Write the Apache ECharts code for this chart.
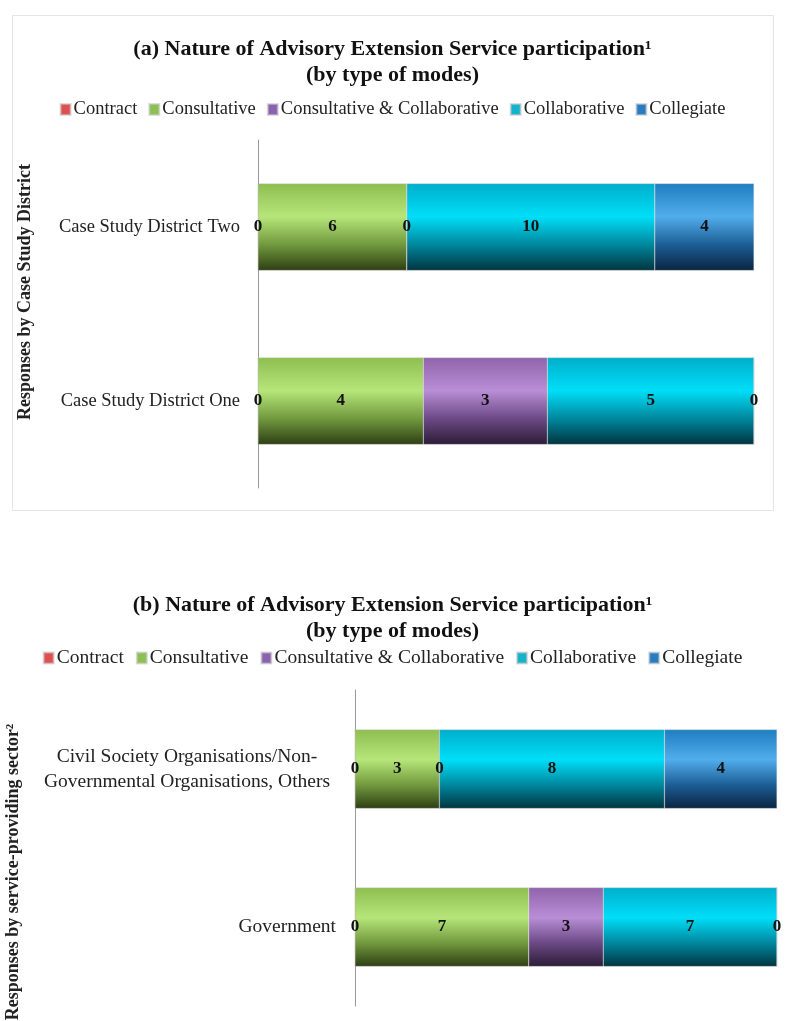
<!DOCTYPE html>
<html>
<head>
<meta charset="utf-8">
<script src="https://cdn.jsdelivr.net/npm/echarts@6/dist/echarts.min.js"></script>
<style>
html,body{margin:0;padding:0;background:#fff;}
#chart{width:785px;height:1021px;}
</style>
</head>
<body>
<div id="chart"></div>
<script>
// ---- data ----
const seriesNames = ['Contract', 'Consultative', 'Consultative & Collaborative', 'Collaborative', 'Collegiate'];

const categoriesA = ['Case Study District One', 'Case Study District Two'];
const contractA = [0, 0];
const consultativeA = [4, 6];
const consultCollabA = [3, 0];
const collaborativeA = [5, 10];
const collegiateA = [0, 4];

const categoriesB = ['Government', 'Civil Society Organisations/Non-\nGovernmental Organisations, Others'];
const contractB = [0, 0];
const consultativeB = [7, 3];
const consultCollabB = [3, 0];
const collaborativeB = [7, 8];
const collegiateB = [0, 4];

const titleA = ['(a) Nature of Advisory Extension Service participation\u00B9', '(by type of modes)'];
const titleB = ['(b) Nature of Advisory Extension Service participation\u00B9', '(by type of modes)'];
const yNameA = 'Responses by Case Study District';
const yNameB = 'Responses by service-providing sector\u00B2';

// ---- styles ----
const FONT = 'Liberation Serif';
const legendColors = ['#e0504f', '#8cc152', '#8a62b0', '#14b3cc', '#2a7cc2'];
const grads = [
  ['#e06060', '#f08a8a', '#b03a3a', '#501818'],
  ['#8ebd50', '#b6e67a', '#729a3e', '#2e3e14'],
  ['#9064aa', '#b98ed6', '#6c4a86', '#2c1c36'],
  ['#00aecb', '#00def8', '#00889e', '#003440'],
  ['#1e7ec0', '#52adec', '#1c5f96', '#0a2440']
];
function grad(i) {
  const g = grads[i];
  return new echarts.graphic.LinearGradient(0, 0, 0, 1, [
    {offset: 0, color: g[0]},
    {offset: 0.38, color: g[1]},
    {offset: 0.7, color: g[2]},
    {offset: 1, color: g[3]}
  ]);
}

function buildSeries(arrs, gridIdx) {
  const totals = arrs[0].map((_, k) => arrs.reduce((s, a) => s + a[k], 0));
  return arrs.map((arr, i) => ({
    name: seriesNames[i],
    type: 'bar',
    stack: 'total' + gridIdx,
    xAxisIndex: gridIdx,
    yAxisIndex: gridIdx,
    barWidth: '50%',
    color: legendColors[i],
    itemStyle: {color: grad(i), borderColor: 'rgba(200,200,200,0.6)', borderWidth: 0.5},
    label: {
      show: true,
      position: 'inside',
      formatter: p => String(p.data.raw),
      fontFamily: FONT,
      fontWeight: 'bold',
      fontSize: 17,
      color: '#111'
    },
    emphasis: {disabled: true},
    data: arr.map((v, k) => ({value: v / totals[k] * 100, raw: v}))
  }));
}

const seriesA = buildSeries([contractA, consultativeA, consultCollabA, collaborativeA, collegiateA], 0);
const seriesB = buildSeries([contractB, consultativeB, consultCollabB, collaborativeB, collegiateB], 1);

function legend(top, gap, size) {
  return {
    top: top, left: 'center',
    itemWidth: 10, itemHeight: 11, itemGap: gap,
    icon: 'rect',
    textStyle: {fontFamily: FONT, fontSize: size, color: '#222', padding: [0, 0, 0, -2]},
    data: seriesNames.map((n, i) => ({name: n, itemStyle: {color: legendColors[i]}})),
    selectedMode: false
  };
}

const chart = echarts.init(document.getElementById('chart'), null, {renderer: 'canvas'});
chart.setOption({
  backgroundColor: '#fff',
  animation: false,
  title: [
    {text: titleA[0] + '\n' + titleA[1], left: 'center', top: 31,
     textStyle: {fontFamily: FONT, fontWeight: 'bold', fontSize: 22, lineHeight: 26, color: '#111'}},
    {text: titleB[0] + '\n' + titleB[1], left: 'center', top: 587,
     textStyle: {fontFamily: FONT, fontWeight: 'bold', fontSize: 22, lineHeight: 26, color: '#111'}}
  ],
  legend: [legend(95, 11, 18.5), legend(643, 12, 19.5)],
  grid: [
    {left: 258, right: 31, top: 140, height: 348},
    {left: 355, right: 8, top: 690, height: 316}
  ],
  xAxis: [
    {type: 'value', gridIndex: 0, min: 0, max: 100, show: false},
    {type: 'value', gridIndex: 1, min: 0, max: 100, show: false}
  ],
  yAxis: [
    {type: 'category', gridIndex: 0, data: categoriesA,
     axisLine: {lineStyle: {color: '#999', width: 1}}, axisTick: {show: false},
     axisLabel: {fontFamily: FONT, fontSize: 18.5, color: '#222', margin: 18}},
    {type: 'category', gridIndex: 1, data: categoriesB,
     axisLine: {lineStyle: {color: '#999', width: 1}}, axisTick: {show: false},
     axisLabel: {
       fontFamily: FONT, fontSize: 19.5, color: '#222', margin: 19,
       formatter: v => v.indexOf('\n') >= 0 ? v.split('\n').map(s => '{c|' + s + '}').join('\n') : v,
       rich: {c: {fontFamily: FONT, fontSize: 19.5, color: '#222', width: 298, align: 'center', lineHeight: 25}}
     }}
  ],
  graphic: [
    {type: 'rect', left: 10, top: 13, shape: {width: 761, height: 495},
     style: {fill: 'none', stroke: '#e4e4e4', lineWidth: 1}, z: -1},
    {type: 'text', x: 25, y: 292, rotation: Math.PI / 2,
     style: {text: yNameA, fontFamily: FONT, fontWeight: 'bold', fontSize: 18, fill: '#222',
             textAlign: 'center', textVerticalAlign: 'middle'}},
    {type: 'text', x: 13, y: 872, rotation: Math.PI / 2,
     style: {text: yNameB, fontFamily: FONT, fontWeight: 'bold', fontSize: 18, fill: '#222',
             textAlign: 'center', textVerticalAlign: 'middle'}}
  ],
  series: seriesA.concat(seriesB)
});
</script>
</body>
</html>
